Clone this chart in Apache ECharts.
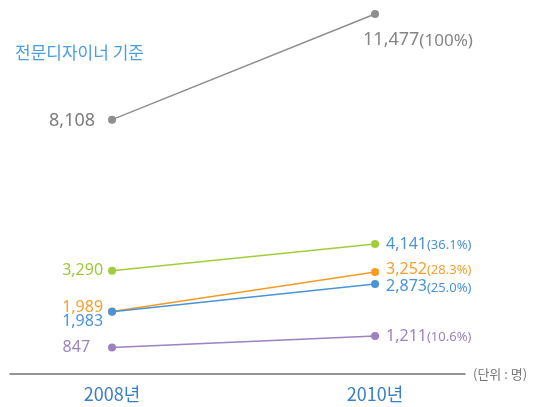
<!DOCTYPE html>
<html><head><meta charset="utf-8">
<script src="https://cdn.jsdelivr.net/npm/echarts@6/dist/echarts.min.js"></script>
<style>html,body{margin:0;padding:0;background:#fff}#c{width:539px;height:407px}</style>
</head><body><div id="c"></div>
<script>
var categories = ['2008년', '2010년'];
var grayVals = [8108, 11477];
var greenVals = [3290, 4141];
var orangeVals = [1989, 3252];
var blueVals = [1983, 2873];
var purpleVals = [847, 1211];
var pct2010 = { gray: '100%', green: '36.1%', orange: '28.3%', blue: '25.0%', purple: '10.6%' };
var titleText = '전문디자이너 기준';
var unitText = '(단위 : 명)';

var FONT = '"Noto Sans", "Noto Sans CJK KR", sans-serif';
function fmt(n){ return n.toLocaleString('en-US'); }

function mk(name, vals, lineColor, leftColor, rightColor, vSize, pSize, leftOffset, rightOffset) {
  return {
    type: 'line', name: name,
    symbol: 'circle', symbolSize: 8,
    lineStyle: { color: lineColor, width: 1.5 },
    itemStyle: { color: lineColor },
    data: vals.map(function (v, i) {
      var isLeft = i === 0;
      var col = isLeft ? leftColor : rightColor;
      return {
        value: [i, v],
        label: {
          show: true,
          position: isLeft ? 'left' : 'right',
          distance: isLeft ? 5 : 7,
          offset: isLeft ? leftOffset : rightOffset,
          formatter: isLeft ? '{v|' + fmt(v) + '}' : '{v|' + fmt(v) + '}{p|(' + pct2010[name] + ')}',
          rich: {
            v: { fontSize: vSize, color: col, fontFamily: FONT },
            p: { fontSize: pSize, color: col, fontFamily: FONT, padding: [2, 0, 0, 0] }
          }
        }
      };
    })
  };
}

var chart = echarts.init(document.getElementById('c'));
chart.setOption({
  animation: false,
  title: { text: titleText, left: 10, top: 39, textStyle: { color: '#4a9ede', fontSize: 17, fontWeight: 'normal', fontFamily: '"Noto Sans CJK KR", sans-serif' } },
  grid: { left: 10, right: 74, top: 14, bottom: 33, containLabel: false },
  xAxis: {
    type: 'value', min: -0.388, max: 1.342,
    splitLine: { show: false },
    axisTick: { show: false },
    axisLine: { show: true, lineStyle: { color: '#707070', width: 1.5 } },
    axisLabel: {
      customValues: [0, 1],
      margin: 11,
      color: '#3a7fc6', fontSize: 18, fontFamily: '"Noto Sans CJK KR", sans-serif',
      formatter: function (v) { return categories[Math.round(v)] || ''; }
    },
    name: unitText, nameLocation: 'end', nameGap: 8,
    nameTextStyle: { color: '#777', fontSize: 13, fontFamily: '"Noto Sans CJK KR", sans-serif', verticalAlign: 'middle' }
  },
  yAxis: { type: 'value', min: 0, max: 11477, show: false, splitLine: { show: false } },
  series: [
    mk('gray', grayVals, '#8e8e8e', '#7c7c7c', '#858585', 18, 17, [-8, 1], [-23, 26]),
    mk('green', greenVals, '#a2cd3a', '#9cc83a', '#4a93d6', 16, 13, [0, 0], [0, 0]),
    mk('orange', orangeVals, '#f59b22', '#f5a030', '#f5a030', 16, 13, [0, -4], [0, -3]),
    mk('blue', blueVals, '#4a93d6', '#4a93d6', '#4a93d6', 16, 13, [0, 10], [0, 3]),
    mk('purple', purpleVals, '#9a82c3', '#9a84c0', '#9a84c0', 16, 13, [-13, 0], [0, 0])
  ]
});
</script></body></html>
